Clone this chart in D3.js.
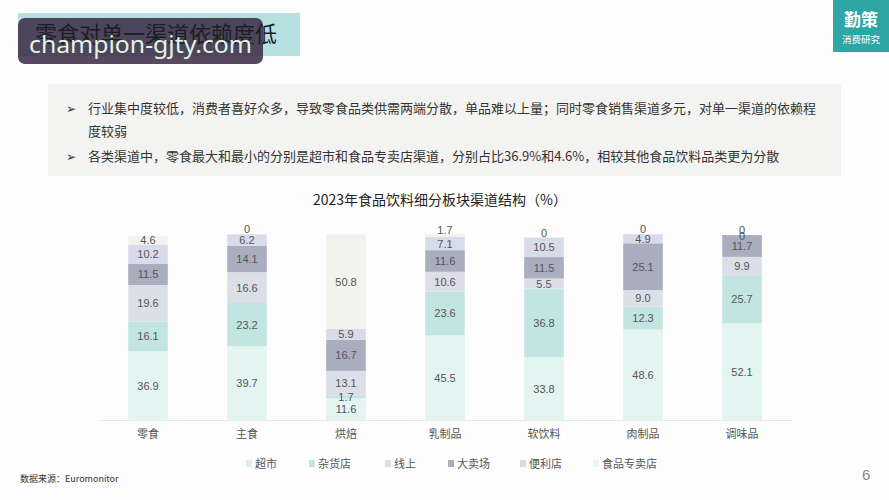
<!DOCTYPE html>
<html><head><meta charset="utf-8">
<script src="https://cdn.jsdelivr.net/npm/d3@7"></script>
<style>
html,body{margin:0;padding:0;background:#fdfdfd;}
svg{display:block;font-family:"Noto Sans CJK SC","Noto Sans",sans-serif;}
</style></head>
<body><svg id="c" width="889" height="500"></svg>
<script>
const categories = ["零食","主食","烘焙","乳制品","软饮料","肉制品","调味品"];
const seriesNames = ["超市","杂货店","线上","大卖场","便利店","食品专卖店"];
const s超市 =     [36.9, 39.7, 11.6, 45.5, 33.8, 48.6, 52.1];
const s杂货店 =   [16.1, 23.2, 1.7, 23.6, 36.8, 12.3, 25.7];
const s线上 =     [19.6, 16.6, 13.1, 10.6, 5.5, 9.0, 9.9];
const s大卖场 =   [11.5, 14.1, 16.7, 11.6, 11.5, 25.1, 11.7];
const s便利店 =   [10.2, 6.2, 5.9, 7.1, 10.5, 4.9, 0];
const s食品专卖店 = [4.6, 0, 50.8, 1.7, 0, 0, 0];
const seriesValues = [s超市, s杂货店, s线上, s大卖场, s便利店, s食品专卖店];
const colors = ["#e3f4f1","#c3e5e2","#dcdee8","#a9adbe","#d8dbea","#f2f2ef"];

const svg = d3.select("#c");
const F = '"Liberation Sans",Arial,sans-serif';

// title bar
svg.append("rect").attr("x",18).attr("y",13).attr("width",282).attr("height",43).attr("fill","#b6e0e0");
// watermark box
svg.append("rect").attr("x",18).attr("y",18).attr("width",245).attr("height",46).attr("rx",7).attr("fill","#3a2944").attr("opacity",0.85);
svg.append("text").attr("x",35).attr("y",42).attr("font-size",22).attr("fill","#1e1e22").text("零食对单一渠道依赖度低");
svg.append("text").attr("x",29).attr("y",53).attr("font-size",24).attr("textLength",223).attr("lengthAdjust","spacingAndGlyphs")
  .attr("font-family",'"Noto Sans",sans-serif').attr("fill","#e2f5e2").text("champion-gjty.com");

// logo
svg.append("rect").attr("x",833).attr("y",0).attr("width",56).attr("height",52).attr("fill","#2ea6a5");
svg.append("text").attr("x",861).attr("y",26).attr("text-anchor","middle").attr("font-size",17).attr("font-weight","bold").attr("fill","#fff").text("勤策");
svg.append("text").attr("x",861).attr("y",43).attr("text-anchor","middle").attr("font-size",9.5).attr("fill","#fff").text("消费研究");

// bullet box
svg.append("rect").attr("x",48).attr("y",84).attr("width",793).attr("height",92).attr("fill","#f3f3f1");
const bullets = [
 {b:true, y:113, t:"行业集中度较低，消费者喜好众多，导致零食品类供需两端分散，单品难以上量；同时零食销售渠道多元，对单一渠道的依赖程"},
 {b:false, y:136, t:"度较弱"},
 {b:true, y:161, t:"各类渠道中，零食最大和最小的分别是超市和食品专卖店渠道，分别占比36.9%和4.6%，相较其他食品饮料品类更为分散"}
];
bullets.forEach(d=>{
  if(d.b) svg.append("text").attr("x",66).attr("y",d.y).attr("font-size",12).attr("fill","#333").text("➢");
  svg.append("text").attr("x",88).attr("y",d.y).attr("font-size",13).attr("fill","#333").text(d.t);
});

// chart title
svg.append("text").attr("x",440).attr("y",205).attr("text-anchor","middle").attr("font-size",14).attr("fill","#222").text("2023年食品饮料细分板块渠道结构（%）");

// scales
const x = d3.scaleBand().domain(categories).range([98.5,791.5]).paddingInner(0.6).paddingOuter(0.3);
const y = d3.scaleLinear().domain([0,100]).range([420,234]);

const rows = categories.map((c,i)=>{const r={cat:c}; seriesNames.forEach((s,j)=>r[s]=seriesValues[j][i]); return r;});
const stack = d3.stack().keys(seriesNames)(rows);

const g = svg.append("g");
stack.forEach((layer,j)=>{
  g.selectAll(null).data(layer).enter().append("rect")
    .attr("x",d=>x(d.data.cat)).attr("width",x.bandwidth())
    .attr("y",d=>y(d[1])).attr("height",d=>Math.max(0,y(d[0])-y(d[1])))
    .attr("fill",colors[j]);
});
const last = seriesNames.length-1;
stack.forEach((layer,j)=>{
  g.selectAll(null).data(layer).enter().append("text")
    .attr("x",d=>x(d.data.cat)+x.bandwidth()/2)
    .attr("y",d=>{
      const v=d[1]-d[0];
      let c=(y(d[0])+y(d[1]))/2;
      if(v===0) c += (j===last)? -5 : 1;
      else if(j===last && v<3) c -= 5;
      return c+4;
    })
    .attr("text-anchor","middle").attr("font-family",F).attr("font-size",11).attr("fill","#555")
    .text(d=>{const v=+(d[1]-d[0]).toFixed(1); return v===0?"0":v.toFixed(1);});
});

// axis
const ax = svg.append("g").attr("transform","translate(0,420)").call(d3.axisBottom(x).tickSize(0).tickPadding(10));
ax.select(".domain").attr("stroke","#e8e8e8");
ax.selectAll("text").attr("font-size",11).attr("fill","#555").attr("font-family",'"Noto Sans CJK SC",sans-serif');

// legend
const legX = [246,309,385,448,520,593];
seriesNames.forEach((s,j)=>{
  svg.append("rect").attr("x",legX[j]).attr("y",460).attr("width",6).attr("height",7).attr("fill",colors[j]==="#e3f4f1"?"#dcefec":colors[j]);
  svg.append("text").attr("x",legX[j]+9).attr("y",468).attr("font-size",11).attr("fill","#555").text(s);
});

// source & page
svg.append("text").attr("x",20).attr("y",482).attr("font-size",9).attr("fill","#333").text("数据来源：Euromonitor");
svg.append("text").attr("x",862).attr("y",480).attr("font-size",15).attr("fill","#888").attr("font-family",F).text("6");
</script></body></html>
